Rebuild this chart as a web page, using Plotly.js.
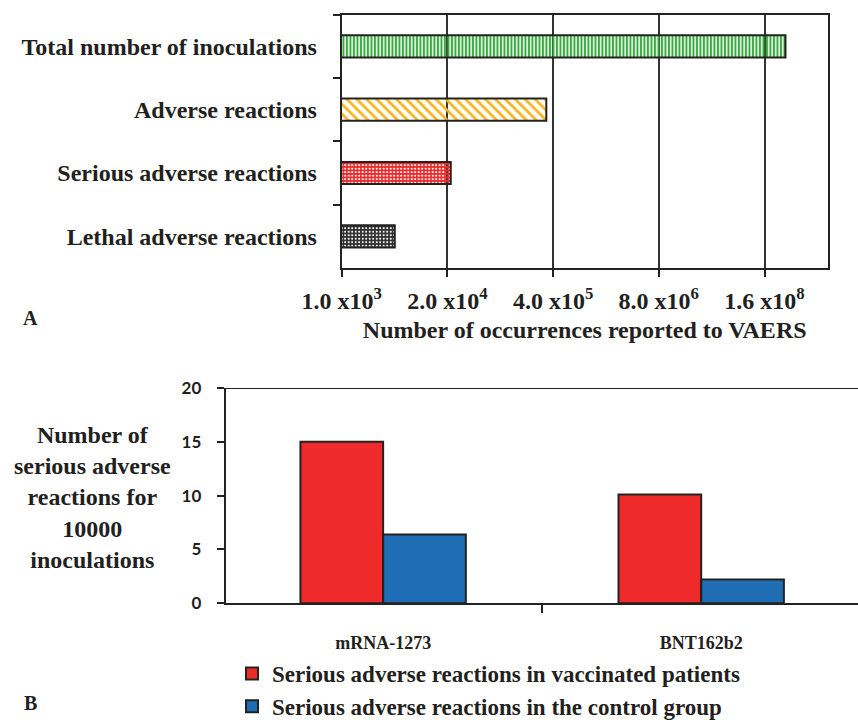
<!DOCTYPE html>
<html>
<head>
<meta charset="utf-8">
<script src="https://cdn.plot.ly/plotly-3.0.1.min.js"></script>
<style>html,body{margin:0;padding:0;background:#fff;}#chart{width:858px;height:720px;}</style>
</head>
<body>
<div id="chart"></div>
<script>
// ---- Panel A data ----
const topCategories = ['Total number of inoculations', 'Adverse reactions', 'Serious adverse reactions', 'Lethal adverse reactions'];
const topValues = [2.9e8, 3.3e5, 2.2e4, 4.5e3];
const topTickVals = [1e3, 2e4, 4e5, 8e6, 1.6e8];
const topTickText = ['1.0 x10<sup>3</sup>', '2.0 x10<sup>4</sup>', '4.0 x10<sup>5</sup>', '8.0 x10<sup>6</sup>', '1.6 x10<sup>8</sup>'];
const topAxisTitle = 'Number of occurrences reported to VAERS';

// ---- Panel B data ----
const vaccines = ['mRNA-1273', 'BNT162b2'];
const vaccinatedValues = [15.0, 10.1];
const controlValues = [6.4, 2.2];
const seriesNames = ['Serious adverse reactions in vaccinated patients', 'Serious adverse reactions in the control group'];
const bTickVals = [0, 5, 10, 15, 20];
const bAxisTitle = 'Number of<br>serious adverse<br>reactions for<br>10000<br>inoculations';

const serif = 'Liberation Serif, Times New Roman, serif';
const sans = 'Lato, Open Sans, Liberation Sans, sans-serif';
const ink = '#231f20';

const W = 858, H = 720;
const px = v => v / W;
const py = v => 1 - v / H;

const traces = [
  {
    type: 'bar', orientation: 'h',
    x: topValues, y: topCategories,
    xaxis: 'x', yaxis: 'y',
    width: 0.35,
    showlegend: false,
    hoverinfo: 'x+y',
    marker: {
      color: ['#3aaa40', '#f5b51f', '#ee2a2a', '#333333'],
      line: {color: '#222', width: 2},
      pattern: {
        shape: ['|', '\\', '+', '+'],
        fgcolor: ['#3aaa40', '#f5b51f', '#ee2a2a', '#333333'],
        bgcolor: ['#ffffff', '#ffffff', '#ffffff', '#ffffff'],
        size: [3.5, 7, 3.5, 3.5],
        solidity: [0.6, 0.4, 0.7, 0.75],
        fillmode: 'replace'
      }
    }
  },
  {
    type: 'bar', x: vaccines, y: vaccinatedValues,
    xaxis: 'x2', yaxis: 'y2',
    name: seriesNames[0],
    width: 0.26, offset: -0.26,
    marker: {color: '#ee2a2a', line: {color: '#222', width: 2}}
  },
  {
    type: 'bar', x: vaccines, y: controlValues,
    xaxis: 'x2', yaxis: 'y2',
    name: seriesNames[1],
    width: 0.26, offset: 0,
    marker: {color: '#1f6eb5', line: {color: '#222', width: 2}}
  }
];

const layout = {
  width: W, height: H,
  margin: {l: 0, r: 0, t: 0, b: 0, pad: 0, autoexpand: false},
  paper_bgcolor: '#fff', plot_bgcolor: '#fff',
  barmode: 'overlay',
  font: {family: serif, color: ink},
  xaxis: {
    domain: [px(341.7), px(827.7)],
    anchor: 'y',
    type: 'log',
    range: [3, 8.982],
    tickvals: topTickVals, ticktext: topTickText,
    ticks: 'outside', ticklen: 7, tickwidth: 2, tickcolor: '#222',
    showgrid: true, gridcolor: '#333', gridwidth: 2,
    showline: true, mirror: true, linecolor: '#222', linewidth: 2,
    zeroline: false,
    tickfont: {family: serif, size: 24, color: ink, weight: 'bold'},
    ticklabelstandoff: 3,
    title: {text: topAxisTitle, font: {family: serif, size: 24, color: ink, weight: 'bold'}, standoff: 8}
  },
  yaxis: {
    domain: [py(268), py(14.7)],
    anchor: 'x',
    type: 'category',
    categoryorder: 'array', categoryarray: topCategories,
    range: [3.5, -0.5],
    tickson: 'boundaries',
    ticks: 'outside', ticklen: 7, tickwidth: 2, tickcolor: '#222',
    showgrid: false,
    showline: true, mirror: true, linecolor: '#222', linewidth: 2,
    tickfont: {family: serif, size: 24, color: ink, weight: 'bold'},
    ticklabelstandoff: 18
  },
  xaxis2: {
    domain: [px(225.7), 1],
    anchor: 'y2',
    type: 'category',
    range: [-0.495, 1.493],
    tickson: 'boundaries',
    ticks: 'outside', ticklen: 8, tickwidth: 2, tickcolor: '#222',
    showgrid: false, zeroline: false,
    showline: true, linecolor: '#222', linewidth: 2,
    tickfont: {family: serif, size: 18, color: ink, weight: 'bold'},
    ticklabelstandoff: 22
  },
  yaxis2: {
    domain: [py(603.3), py(388)],
    anchor: 'x2',
    range: [0, 20],
    tickvals: bTickVals,
    ticks: 'outside', ticklen: 7, tickwidth: 2, tickcolor: '#222',
    showgrid: false, zeroline: false,
    showline: true, linecolor: '#222', linewidth: 2,
    tickfont: {family: sans, size: 17, color: ink, weight: 'bold'},
    ticklabelstandoff: 12
  },
  shapes: [
    {type: 'line', xref: 'paper', yref: 'y2', x0: px(225.7), x1: 1, y0: 20, y1: 20, line: {color: '#222', width: 2}}
  ],
  annotations: [
    {text: bAxisTitle, xref: 'paper', yref: 'paper', x: px(92.7), y: py(497.5), xanchor: 'center', yanchor: 'middle', showarrow: false, align: 'center',
     font: {family: serif, size: 24, color: ink, weight: 'bold'}},
    {text: 'A', xref: 'paper', yref: 'paper', x: px(30), y: py(318), xanchor: 'center', yanchor: 'middle', showarrow: false,
     font: {family: serif, size: 20, color: ink, weight: 'bold'}},
    {text: 'B', xref: 'paper', yref: 'paper', x: px(30), y: py(703), xanchor: 'center', yanchor: 'middle', showarrow: false,
     font: {family: serif, size: 20, color: ink, weight: 'bold'}}
  ],
  showlegend: true,
  legend: {
    x: px(232), y: py(652), xanchor: 'left', yanchor: 'top',
    bgcolor: 'rgba(0,0,0,0)',
    font: {family: serif, size: 23, color: ink, weight: 'bold'},
    orientation: 'v', traceorder: 'normal'
  }
};

Plotly.newPlot('chart', traces, layout, {displayModeBar: false, staticPlot: true});
</script>
</body>
</html>
